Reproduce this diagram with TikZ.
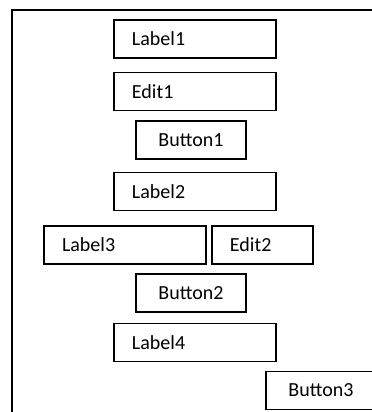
\documentclass[tikz,border=0pt]{standalone}
\usepackage{fontspec}
\setmainfont{Carlito}

\tikzset{
  field/.style = {draw, line width=1pt, inner xsep=13.5pt, inner ysep=0pt,
                  minimum height=28.5pt, align=left, font=\fontsize{15}{18}\selectfont},
  widefield/.style = {field, text width=94.5pt},
  smallfield/.style = {field, text width=48.75pt},
  btn/.style = {draw, line width=1pt, minimum width=82.5pt, minimum height=28.5pt,
                inner sep=0pt, font=\fontsize{15}{18}\selectfont}
}

\begin{document}
\begin{tikzpicture}[x=0.75pt, y=-0.75pt]
\useasboundingbox (0,0) rectangle (372,412);
% form frame
\draw[line width=1pt] (12,413) -- (12,10) -- (373,10);

\node[widefield] (label1) at (195,39) {Label1};
\node[widefield] (edit1) at (195,91.5) {Edit1};
\node[btn] (button1) at (191,140) {Button1};
\node[widefield] (label2) at (195,191.5) {Label2};
\node[widefield] (label3) at (125,245) {Label3};
\node[smallfield] (edit2) at (262.5,245) {Edit2};
\node[btn] (button2) at (191,293) {Button2};
\node[widefield] (label4) at (195,342.5) {Label4};
\node[btn] (button3) at (321,390.5) {Button3};
\end{tikzpicture}
\end{document}
